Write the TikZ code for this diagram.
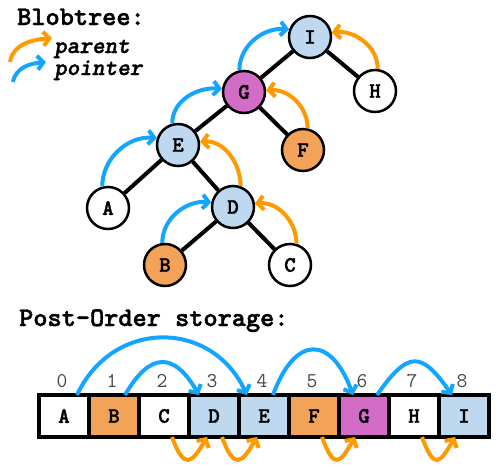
\documentclass[tikz,border=0pt]{standalone}
\usepackage{fontspec}
\usetikzlibrary{arrows.meta}
\newfontfamily\cbf{lmmonolt10-bold.otf}[FakeBold=1.6]
\newfontfamily\cbfi{lmmonolt10-boldoblique.otf}[FakeBold=1.4]
\definecolor{ablue}{RGB}{20,165,255}
\definecolor{aorange}{RGB}{255,153,0}
\definecolor{fblue}{RGB}{190,216,240}
\definecolor{forange}{RGB}{242,163,88}
\definecolor{fmag}{RGB}{210,108,198}
\definecolor{idxgray}{RGB}{70,70,70}
\begin{document}
\begin{tikzpicture}[x=1pt,y=1pt,
  tnode/.style={circle,draw=black,line width=2.5pt,minimum size=42pt,inner sep=0pt,
    font=\fontsize{22}{22}\cbf},
  tedge/.style={line width=4pt},
  barrow/.style={draw=ablue,line width=4pt,-{Straight Barb[length=6pt,width=14pt]}},
  oarrow/.style={draw=aorange,line width=4pt,-{Straight Barb[length=6pt,width=14pt]}},
  cell/.style={draw=black,line width=3.5pt,minimum width=50pt,minimum height=42pt,
    inner sep=0pt,outer sep=0pt,font=\fontsize{22}{22}\cbf},
  idx/.style={anchor=base,text=idxgray,font=\fontsize{21}{21}\selectfont\ttfamily},
  title/.style={anchor=base west,inner sep=0pt,font=\fontsize{27}{27}\cbf},
  legend/.style={anchor=base west,inner sep=0pt,font=\fontsize{24}{24}\cbfi}
]
\useasboundingbox (0,0) rectangle (499,-475);

% titles
\node[title] (t1) at (17,-25) {Blobtree:};
\node[title] (t2) at (19,-326) {Post-Order storage:};

% legend
\coordinate (lo1) at (10,-62);
\coordinate (lo2) at (52,-38);
\coordinate (lb1) at (13,-82);
\coordinate (lb2) at (46,-62);
\draw[oarrow] (lo1) to[out=80,in=185] (lo2);
\draw[barrow] (lb1) to[out=80,in=185] (lb2);
\node[legend] (l1) at (54,-53) {parent};
\node[legend] (l2) at (54,-75) {pointer};

% tree nodes
\node[tnode,fill=fblue]   (I) at (310,-37) {I};
\node[tnode,fill=fmag]    (G) at (244,-92) {G};
\node[tnode,fill=white]   (H) at (375,-91) {H};
\node[tnode,fill=fblue]   (E) at (178,-145) {E};
\node[tnode,fill=forange] (F) at (303,-150) {F};
\node[tnode,fill=white]   (A) at (108,-208) {A};
\node[tnode,fill=fblue]   (D) at (233,-207) {D};
\node[tnode,fill=forange] (B) at (165,-265) {B};
\node[tnode,fill=white]   (C) at (290,-265) {C};

% tree edges
\draw[tedge] (I) -- (G);
\draw[tedge] (I) -- (H);
\draw[tedge] (G) -- (E);
\draw[tedge] (G) -- (F);
\draw[tedge] (E) -- (A);
\draw[tedge] (E) -- (D);
\draw[tedge] (D) -- (B);
\draw[tedge] (D) -- (C);

% tree parent pointers
\draw[barrow] (G.102) to[out=90,in=175] (I.160);
\draw[oarrow] (H.83) to[out=90,in=5] (I.12);
\draw[barrow] (E.105) to[out=90,in=175] (G.172);
\draw[oarrow] (F.78) to[out=90,in=5] (G.4);
\draw[barrow] (A.105) to[out=90,in=175] (E.162);
\draw[oarrow] (D.70) to[out=90,in=5] (E.8);
\draw[barrow] (B.97) to[out=90,in=175] (D.168);
\draw[oarrow] (C.73) to[out=90,in=5] (D.9);

% array cells
\node[cell,fill=white]   (cA) at (64,-416)  {A};
\node[cell,fill=forange] (cB) at (114,-416) {B};
\node[cell,fill=white]   (cC) at (164,-416) {C};
\node[cell,fill=fblue]   (cD) at (214,-416) {D};
\node[cell,fill=fblue]   (cE) at (264,-416) {E};
\node[cell,fill=forange] (cF) at (314,-416) {F};
\node[cell,fill=fmag]    (cG) at (364,-416) {G};
\node[cell,fill=white]   (cH) at (414,-416) {H};
\node[cell,fill=fblue]   (cI) at (464,-416) {I};

% indices
\foreach \i in {0,...,8} {
  \node[idx] (n\i) at (62+50*\i,-387) {\i};
}

% array blue arrows (above)
\draw[barrow] ([xshift=13pt]cA.north) .. controls +(65:84) and +(115:84) .. ([xshift=-17pt]cE.north);
\draw[barrow] ([xshift=11pt]cB.north) .. controls +(60:50) and +(120:50) .. ([xshift=-15pt]cD.north);
\draw[barrow] ([xshift=9pt]cE.north) .. controls +(70:64) and +(110:64) .. ([xshift=-11pt]cG.north);
\draw[barrow] ([xshift=13pt]cG.north) .. controls +(55:54) and +(125:54) .. ([xshift=-12pt]cI.north);

% array orange arrows (below)
\draw[oarrow] ([xshift=8pt]cC.south) .. controls +(-70:36) and +(-120:30) .. ([xshift=-7pt]cD.south);
\draw[oarrow] ([xshift=8pt]cD.south) .. controls +(-70:36) and +(-120:30) .. ([xshift=-7pt]cE.south);
\draw[oarrow] ([xshift=8pt]cF.south) .. controls +(-70:36) and +(-120:30) .. ([xshift=-9pt]cG.south);
\draw[oarrow] ([xshift=8pt]cH.south) .. controls +(-70:36) and +(-120:30) .. ([xshift=-9pt]cI.south);
\end{tikzpicture}
\end{document}
